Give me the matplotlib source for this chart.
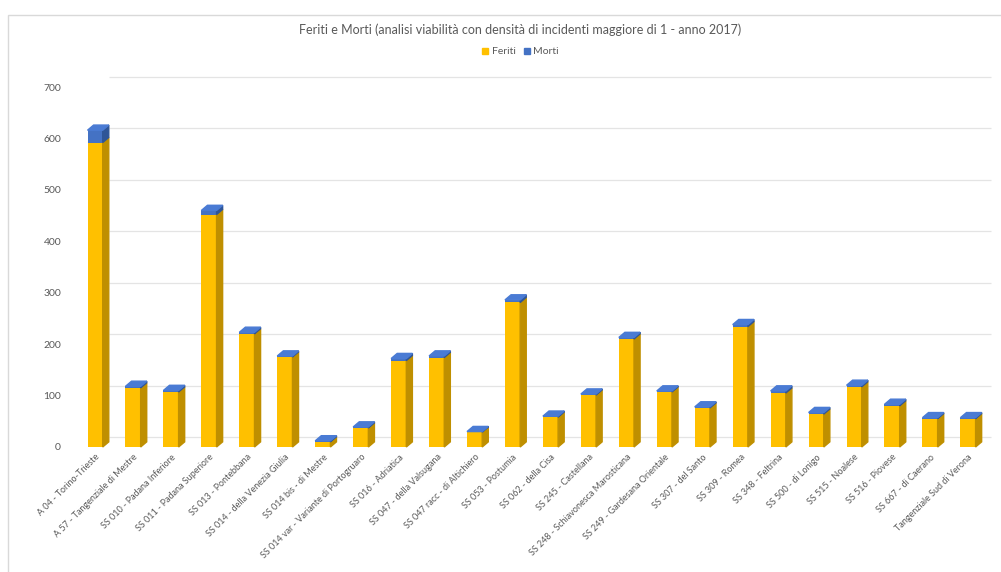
import matplotlib.pyplot as plt
import matplotlib.transforms as mtransforms
from matplotlib.patches import Rectangle, Polygon

strade = ["A 04 - Torino-Trieste", "A 57 - Tangenziale di Mestre",
          "SS 010 - Padana Inferiore", "SS 011 - Padana Superiore",
          "SS 013 - Pontebbana", "SS 014 - della Venezia Giulia",
          "SS 014 bis - di Mestre", "SS 014 var - Variante di Portogruaro",
          "SS 016 - Adriatica", "SS 047 - della Valsugana",
          "SS 047 racc - di Altichiero", "SS 053 - Postumia",
          "SS 062 - della Cisa", "SS 245 - Castellana",
          "SS 248 - Schiavonesca Marosticana", "SS 249 - Gardesana Orientale",
          "SS 307 - del Santo", "SS 309 - Romea", "SS 348 - Feltrina",
          "SS 500 - di Lonigo", "SS 515 - Noalese", "SS 516 - Piovese",
          "SS 667 - di Caerano", "Tangenziale Sud di Verona"]
feriti = [592, 115, 107, 452, 220, 175, 10, 37, 168, 174, 29, 281,
          58, 101, 210, 107, 76, 234, 105, 64, 117, 80, 55, 55]
morti = [24, 3, 3, 8, 3, 2, 2, 2, 4, 3, 1, 5,
         2, 2, 3, 2, 2, 4, 4, 3, 3, 3, 2, 2]
valori_y = list(range(0, 701, 100))

giallo, giallo_lato = "#FFC000", "#BF8F00"
blu, blu_top, blu_lato = "#4472C4", "#4A7BD4", "#2F5597"
grigio = "#595959"

plt.rcParams['font.family'] = ['Lato', 'DejaVu Sans']

fig = plt.figure(figsize=(10.01, 5.72), dpi=100)
fig.patches.append(Rectangle((8 / 1001, -0.01), 1.0, 1 - 15 / 572 + 0.01,
                             transform=fig.transFigure, fill=False,
                             edgecolor="#D9D9D9", lw=1))
ax = fig.add_axes([75 / 1001, 1 - 447 / 572, 915 / 1001, 360 / 572])

x = list(range(len(strade)))
w = 0.40
dx, dy = 0.16, 10

ax.bar(x, feriti, width=w, color=giallo, zorder=3)
ax.bar(x, morti, width=w, bottom=feriti, color=blu, zorder=3)

# facce laterali e superiori per l'effetto 3D
for i, f, m in zip(x, feriti, morti):
    r = i + w / 2
    ax.add_patch(Polygon([(r, 0), (r + dx, dy), (r + dx, f + dy), (r, f)],
                         color=giallo_lato, zorder=3, clip_on=False))
    ax.add_patch(Polygon([(r, f), (r + dx, f + dy), (r + dx, f + m + dy), (r, f + m)],
                         color=blu_lato, zorder=3, clip_on=False))
    t = f + m
    ax.add_patch(Polygon([(i - w / 2, t), (r, t), (r + dx, t + dy), (i - w / 2 + dx, t + dy)],
                         color=blu_top, zorder=3, clip_on=False))

ax.set_xlim(-0.53, 23.58)
ax.set_ylim(0, 700)
ax.set_yticks(valori_y)
ax.set_xticks(x)
ax.set_xticklabels(strade, rotation=45, ha="right", rotation_mode="anchor",
                   fontsize=6.5, color=grigio)
ax.tick_params(axis="y", labelsize=7.5, labelcolor=grigio, length=0, pad=10)
ax.tick_params(axis="x", length=0, pad=4)
for s in ax.spines.values():
    s.set_visible(False)

# griglia sulla parete di fondo (spostata come in prospettiva)
off = mtransforms.ScaledTranslation(6 / 100, 10 / 100, fig.dpi_scale_trans)
gl = ax.hlines(valori_y, 0.2, 23.45, color="#E4E4E4", lw=0.9, zorder=0, clip_on=False)
gl.set_transform(ax.transData + off)

fig.text(0.52, 1 - 30 / 572, "Feriti e Morti (analisi viabilità con densità di incidenti maggiore di 1 - anno 2017)",
         ha="center", va="center", fontsize=9, color=grigio)
h = [Rectangle((0, 0), 1, 1, color=giallo), Rectangle((0, 0), 1, 1, color=blu)]
fig.legend(h, ["Feriti", "Morti"], loc="center", bbox_to_anchor=(0.52, 1 - 52 / 572),
           ncol=2, frameon=False, fontsize=7.5, labelcolor=grigio,
           handlelength=0.6, handleheight=0.6, handletextpad=0.3, columnspacing=0.8)

fig.savefig("out.png", dpi=100)
